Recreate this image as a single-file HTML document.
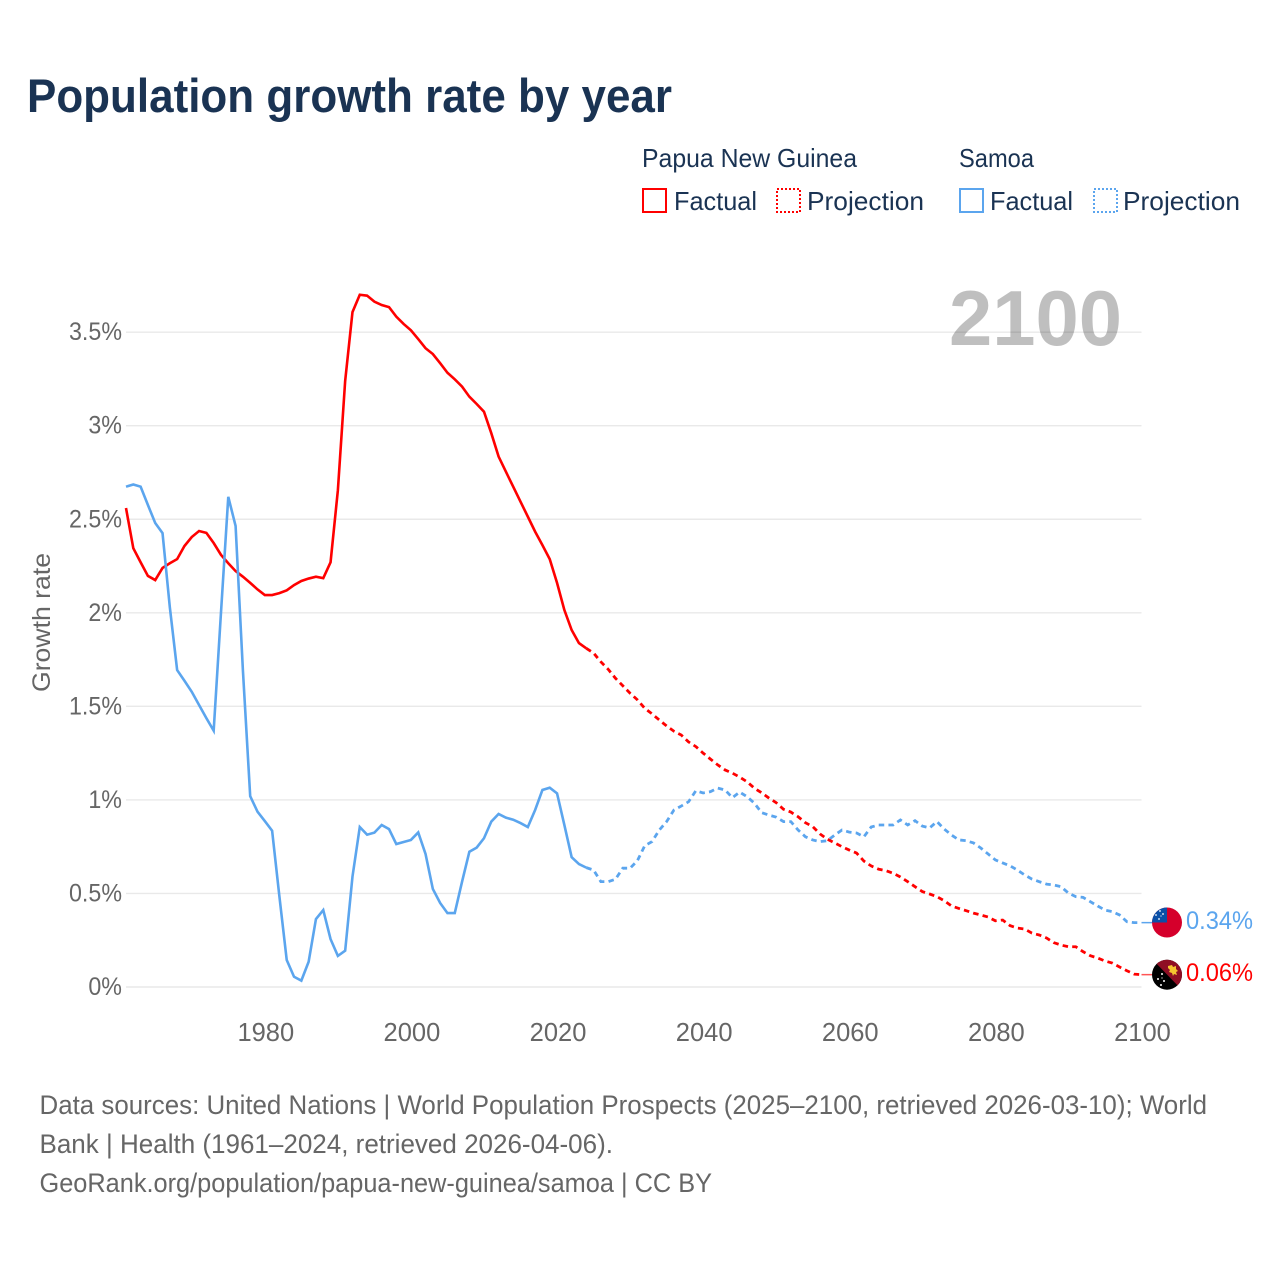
<!DOCTYPE html>
<html lang="en">
<head>
<meta charset="utf-8">
<title>Population growth rate by year</title>
<style>
html,body{margin:0;padding:0;background:#fff;width:1280px;height:1280px;overflow:hidden}
svg{display:block}
text{font-family:"Liberation Sans",sans-serif}
</style>
</head>
<body>
<svg id="chart" xmlns="http://www.w3.org/2000/svg" width="1280" height="1280" viewBox="0 0 1280 1280">
  <defs>
    <clipPath id="flag-ws-clip"><circle cx="1167" cy="922.5" r="15"/></clipPath>
    <clipPath id="flag-png-clip"><circle cx="1167" cy="974.7" r="15"/></clipPath>
  </defs>
  <rect width="1280" height="1280" fill="#fff"/>
  <text x="27" y="112" font-size="47" font-weight="700" fill="#1a3353" textLength="645" lengthAdjust="spacingAndGlyphs">Population growth rate by year</text>

  <g font-size="26" fill="#1a3353">
    <text x="642" y="167" textLength="215" lengthAdjust="spacingAndGlyphs">Papua New Guinea</text>
    <text x="959" y="167" textLength="75" lengthAdjust="spacingAndGlyphs">Samoa</text>
    <rect x="643" y="189" width="23" height="23" fill="none" stroke="#ff0000" stroke-width="2"/>
    <text x="674" y="210" textLength="83" lengthAdjust="spacingAndGlyphs">Factual</text>
    <rect x="777" y="189" width="23" height="23" fill="none" stroke="#ff0000" stroke-width="2" stroke-dasharray="2 2"/>
    <text x="807" y="210" textLength="117" lengthAdjust="spacingAndGlyphs">Projection</text>
    <rect x="960" y="189" width="23" height="23" fill="none" stroke="#5ba5ee" stroke-width="2"/>
    <text x="990" y="210" textLength="83" lengthAdjust="spacingAndGlyphs">Factual</text>
    <rect x="1094" y="189" width="23" height="23" fill="none" stroke="#5ba5ee" stroke-width="2" stroke-dasharray="2 2"/>
    <text x="1123" y="210" textLength="117" lengthAdjust="spacingAndGlyphs">Projection</text>
  </g>

  <g id="grid"></g>

  <text x="949" y="345" font-size="78" font-weight="700" fill="#000000" fill-opacity="0.25" textLength="173" lengthAdjust="spacingAndGlyphs">2100</text>

  <g id="y-axis"></g>
  <g id="x-axis"></g>
  <text transform="translate(50,692) rotate(-90)" x="0" y="0" font-size="25" fill="#666666" textLength="139" lengthAdjust="spacingAndGlyphs">Growth rate</text>

  <g id="series"></g>

  <g id="flag-samoa" clip-path="url(#flag-ws-clip)">
    <rect x="1152" y="907" width="30" height="31" fill="#d5002b"/>
    <rect x="1152" y="907" width="15" height="15.5" fill="#0b50a8"/>
    <circle cx="1160" cy="911" r="0.9" fill="#fff"/>
    <circle cx="1156" cy="915" r="0.9" fill="#fff"/>
    <circle cx="1163" cy="914" r="0.9" fill="#fff"/>
    <circle cx="1159" cy="919" r="0.9" fill="#fff"/>
    <circle cx="1161" cy="916" r="0.6" fill="#fff"/>
  </g>
  <g id="flag-png" clip-path="url(#flag-png-clip)">
    <rect x="1152" y="959" width="30" height="31" fill="#000"/>
    <polygon points="1152,959 1182,959 1182,990" fill="#8f0e24"/>
    <path d="M1168 966 l4 -1 1 2 3 -1 0 3 2 2 -2 1 1 3 -3 -1 -1 2 -1 -3 -3 -1 1 -2 -2 -2 z" fill="#f5c430"/>
    <circle cx="1162" cy="974" r="1" fill="#fff"/>
    <circle cx="1158" cy="979" r="1" fill="#fff"/>
    <circle cx="1164" cy="981" r="1" fill="#fff"/>
    <circle cx="1161" cy="985" r="1" fill="#fff"/>
    <circle cx="1162" cy="978" r="0.6" fill="#fff"/>
  </g>
  <g id="end-labels"></g>

  <g font-size="26.5" fill="#666666">
    <text x="39.5" y="1114" textLength="1167.5" lengthAdjust="spacingAndGlyphs">Data sources: United Nations | World Population Prospects (2025–2100, retrieved 2026-03-10); World</text>
    <text x="39.5" y="1153" textLength="573.5" lengthAdjust="spacingAndGlyphs">Bank | Health (1961–2024, retrieved 2026-04-06).</text>
    <text x="39.5" y="1192" textLength="672.5" lengthAdjust="spacingAndGlyphs">GeoRank.org/population/papua-new-guinea/samoa | CC BY</text>
  </g>
</svg>
<script>
const yTickValues = [0, 0.5, 1, 1.5, 2, 2.5, 3, 3.5];
const yTickLabels = ["0%", "0.5%", "1%", "1.5%", "2%", "2.5%", "3%", "3.5%"];
const xTickYears = [1980, 2000, 2020, 2040, 2060, 2080, 2100];
const factualStartYear = 1961;
const projectionStartYear = 2024;
const pngFactual = [2.56,2.345,2.27,2.197,2.175,2.24,2.265,2.287,2.357,2.405,2.437,2.427,2.373,2.31,2.265,2.223,2.193,2.16,2.125,2.095,2.095,2.105,2.12,2.148,2.17,2.183,2.193,2.185,2.27,2.655,3.24,3.607,3.70,3.695,3.663,3.645,3.634,3.583,3.544,3.51,3.463,3.414,3.383,3.334,3.283,3.248,3.209,3.155,3.116,3.075,2.96,2.835,2.754,2.674,2.594,2.514,2.434,2.362,2.287,2.16,2.015,1.908,1.838,1.81];
const pngProjection = [1.81,1.785,1.738,1.698,1.65,1.61,1.57,1.535,1.49,1.46,1.427,1.395,1.367,1.347,1.31,1.285,1.25,1.218,1.187,1.16,1.143,1.122,1.097,1.063,1.038,1.01,0.985,0.95,0.935,0.91,0.878,0.857,0.818,0.79,0.77,0.75,0.732,0.716,0.673,0.647,0.63,0.622,0.608,0.588,0.563,0.536,0.51,0.497,0.483,0.461,0.433,0.42,0.408,0.395,0.385,0.374,0.354,0.358,0.328,0.315,0.31,0.288,0.278,0.262,0.237,0.224,0.215,0.215,0.189,0.167,0.155,0.139,0.128,0.107,0.087,0.069,0.066];
const samoaFactual = [2.674,2.686,2.674,2.576,2.48,2.426,2.03,1.694,1.637,1.578,1.507,1.437,1.37,2.0,2.62,2.464,1.694,1.02,0.937,0.887,0.835,0.483,0.144,0.055,0.034,0.135,0.363,0.411,0.256,0.166,0.194,0.59,0.855,0.814,0.825,0.866,0.844,0.764,0.775,0.786,0.826,0.711,0.524,0.449,0.395,0.395,0.563,0.723,0.745,0.795,0.884,0.925,0.905,0.894,0.876,0.855,0.946,1.053,1.065,1.035,0.866,0.694,0.657,0.638];
const samoaProjection = [0.638,0.625,0.563,0.563,0.576,0.635,0.635,0.675,0.755,0.777,0.839,0.884,0.946,0.967,0.99,1.049,1.037,1.044,1.063,1.053,1.012,1.042,1.017,0.983,0.932,0.919,0.908,0.884,0.884,0.839,0.803,0.786,0.777,0.782,0.812,0.839,0.828,0.823,0.803,0.855,0.866,0.866,0.866,0.893,0.866,0.889,0.86,0.85,0.884,0.844,0.812,0.786,0.782,0.77,0.743,0.711,0.679,0.663,0.648,0.625,0.599,0.577,0.563,0.55,0.545,0.536,0.502,0.483,0.479,0.456,0.433,0.411,0.403,0.385,0.349,0.344,0.344];
const pngEndLabel = "0.06%";
const samoaEndLabel = "0.34%";

const SVGNS = "http://www.w3.org/2000/svg";
const PLOT_LEFT = 126, PLOT_RIGHT = 1141.5, YEAR_MIN = 1961, YEAR_MAX = 2100;
const Y_ZERO = 987, PX_PER_UNIT = 187.1;
const RED = "#ff0000", BLUE = "#5ba5ee";
const DASH = "5.5 4.2";

function xScale(year) {
  return PLOT_LEFT + (year - YEAR_MIN) * (PLOT_RIGHT - PLOT_LEFT) / (YEAR_MAX - YEAR_MIN);
}
function yScale(value) {
  return Y_ZERO - value * PX_PER_UNIT;
}
function make(tag) {
  return document.createElementNS(SVGNS, tag);
}
function linePoints(values, startYear) {
  return values.map(function (v, i) {
    return xScale(startYear + i).toFixed(2) + "," + yScale(v).toFixed(2);
  }).join(" ");
}

const gridGroup = document.getElementById("grid");
const yAxisGroup = document.getElementById("y-axis");
yTickValues.forEach(function (value, i) {
  const line = make("line");
  
  
  line.setAttribute("x1", PLOT_LEFT);
  line.setAttribute("x2", PLOT_RIGHT);
  line.setAttribute("y1", yScale(value));
  line.setAttribute("y2", yScale(value));
  line.setAttribute("stroke", "#e9e9e9");
  line.setAttribute("stroke-width", "1.4");
  gridGroup.appendChild(line);

  const label = make("text");
  
  
  label.setAttribute("x", 122);
  label.setAttribute("y", yScale(value) + 8);
  label.setAttribute("text-anchor", "end");
  label.setAttribute("font-size", "25");
  label.setAttribute("fill", "#666666");
  label.textContent = yTickLabels[i];
  yAxisGroup.appendChild(label);
  label.setAttribute("textLength", (label.getComputedTextLength() * 0.93).toFixed(2));
  label.setAttribute("lengthAdjust", "spacingAndGlyphs");
});

const xAxisGroup = document.getElementById("x-axis");
xTickYears.forEach(function (year) {
  const label = make("text");
  
  
  label.setAttribute("x", xScale(year) + 1);
  label.setAttribute("y", 1041);
  label.setAttribute("text-anchor", "middle");
  label.setAttribute("font-size", "25.5");
  label.setAttribute("fill", "#666666");
  label.textContent = String(year);
  xAxisGroup.appendChild(label);
});

const seriesGroup = document.getElementById("series");

const pngFactualLine = make("polyline");


pngFactualLine.setAttribute("points", linePoints(pngFactual, factualStartYear));
pngFactualLine.setAttribute("fill", "none");
pngFactualLine.setAttribute("stroke", RED);
pngFactualLine.setAttribute("stroke-width", "2.6");
seriesGroup.appendChild(pngFactualLine);

const samoaFactualLine = make("polyline");


samoaFactualLine.setAttribute("points", linePoints(samoaFactual, factualStartYear));
samoaFactualLine.setAttribute("fill", "none");
samoaFactualLine.setAttribute("stroke", BLUE);
samoaFactualLine.setAttribute("stroke-width", "2.6");
seriesGroup.appendChild(samoaFactualLine);

const samoaProjectionLine = make("polyline");


samoaProjectionLine.setAttribute("points", linePoints(samoaProjection, projectionStartYear));
samoaProjectionLine.setAttribute("fill", "none");
samoaProjectionLine.setAttribute("stroke", BLUE);
samoaProjectionLine.setAttribute("stroke-width", "2.8");
samoaProjectionLine.setAttribute("stroke-dasharray", DASH);
seriesGroup.appendChild(samoaProjectionLine);

const pngProjectionLine = make("polyline");


pngProjectionLine.setAttribute("points", linePoints(pngProjection, projectionStartYear));
pngProjectionLine.setAttribute("fill", "none");
pngProjectionLine.setAttribute("stroke", RED);
pngProjectionLine.setAttribute("stroke-width", "2.8");
pngProjectionLine.setAttribute("stroke-dasharray", DASH);
seriesGroup.appendChild(pngProjectionLine);

const samoaLastY = yScale(samoaProjection[samoaProjection.length - 1]);
const pngLastY = yScale(pngProjection[pngProjection.length - 1]);

const samoaConnector = make("line");


samoaConnector.setAttribute("x1", PLOT_RIGHT);
samoaConnector.setAttribute("x2", 1152);
samoaConnector.setAttribute("y1", samoaLastY);
samoaConnector.setAttribute("y2", samoaLastY);
samoaConnector.setAttribute("stroke", BLUE);
samoaConnector.setAttribute("stroke-width", "1.5");
seriesGroup.appendChild(samoaConnector);

const pngConnector = make("line");


pngConnector.setAttribute("x1", PLOT_RIGHT);
pngConnector.setAttribute("x2", 1152);
pngConnector.setAttribute("y1", pngLastY);
pngConnector.setAttribute("y2", pngLastY);
pngConnector.setAttribute("stroke", "#ff5555");
pngConnector.setAttribute("stroke-width", "1.5");
seriesGroup.appendChild(pngConnector);

const endLabels = document.getElementById("end-labels");

const samoaValueLabel = make("text");


samoaValueLabel.setAttribute("x", 1186);
samoaValueLabel.setAttribute("y", samoaLastY + 6.5);
samoaValueLabel.setAttribute("font-size", "25");
samoaValueLabel.setAttribute("fill", BLUE);
samoaValueLabel.setAttribute("textLength", "67");
samoaValueLabel.setAttribute("lengthAdjust", "spacingAndGlyphs");
samoaValueLabel.textContent = samoaEndLabel;
endLabels.appendChild(samoaValueLabel);

const pngValueLabel = make("text");


pngValueLabel.setAttribute("x", 1186);
pngValueLabel.setAttribute("y", pngLastY + 6.5);
pngValueLabel.setAttribute("font-size", "25");
pngValueLabel.setAttribute("fill", RED);
pngValueLabel.setAttribute("textLength", "67");
pngValueLabel.setAttribute("lengthAdjust", "spacingAndGlyphs");
pngValueLabel.textContent = pngEndLabel;
endLabels.appendChild(pngValueLabel);
</script>
</body>
</html>
